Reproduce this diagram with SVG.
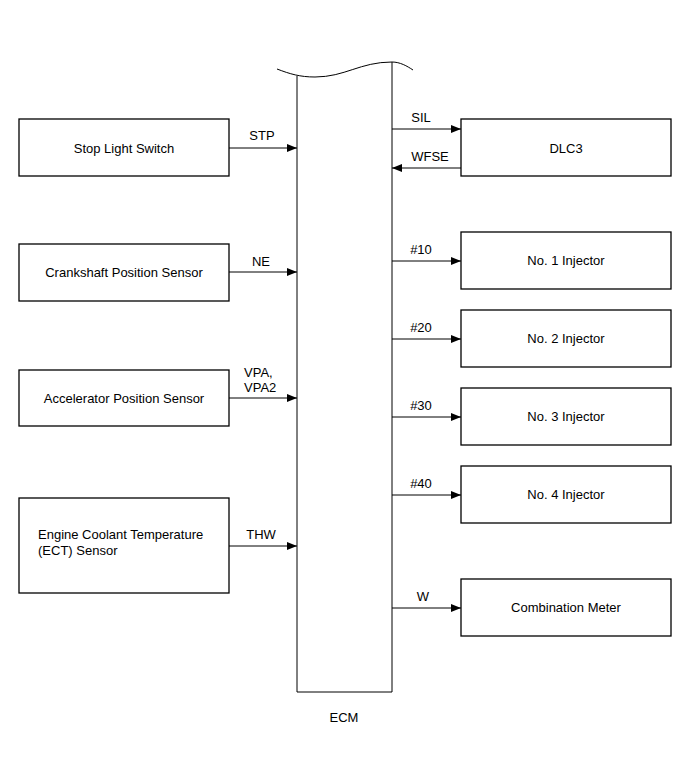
<svg xmlns="http://www.w3.org/2000/svg" width="690" height="757" viewBox="0 0 690 757">
<style>
.box{fill:#fff;stroke:#000;stroke-width:1.3}
text{font-family:"Liberation Sans",Arial,sans-serif;font-size:13px;fill:#000}
.c{text-anchor:middle}
.ln{stroke:#000;stroke-width:1;fill:none}
</style>
<defs>
<marker id="ah" markerWidth="10" markerHeight="8" refX="10" refY="4" orient="auto" markerUnits="userSpaceOnUse">
<path d="M0,0 L10,4 L0,8 Z" fill="#000"/>
</marker>
</defs>
<g id="ecm">
<path class="ln" stroke-width="1.3" d="M297,76 L297,692 L392,692 L392,62"/>
<path class="ln" stroke-width="1.3" d="M277,69 C290,74 300,77 315,77 C345,77 360,62 392,62 C400,62 407,66 413,70"/>
<text class="c" x="344" y="722">ECM</text>
</g>
<g id="stop-light-switch"><rect class="box" x="19" y="119" width="210" height="57"/><text class="c" x="124" y="153">Stop Light Switch</text></g>
<g id="crankshaft"><rect class="box" x="19" y="244" width="210" height="57"/><text class="c" x="124" y="277">Crankshaft Position Sensor</text></g>
<g id="accelerator"><rect class="box" x="19" y="370" width="210" height="56"/><text class="c" x="124" y="403">Accelerator Position Sensor</text></g>
<g id="ect"><rect class="box" x="19" y="498" width="210" height="95"/><text x="38" y="539">Engine Coolant Temperature</text><text x="38" y="555">(ECT) Sensor</text></g>
<g id="dlc3"><rect class="box" x="461" y="119" width="210" height="57"/><text class="c" x="566" y="153">DLC3</text></g>
<g id="inj1"><rect class="box" x="461" y="232" width="210" height="57"/><text class="c" x="566" y="265">No. 1 Injector</text></g>
<g id="inj2"><rect class="box" x="461" y="310" width="210" height="57"/><text class="c" x="566" y="343">No. 2 Injector</text></g>
<g id="inj3"><rect class="box" x="461" y="388" width="210" height="57"/><text class="c" x="566" y="421">No. 3 Injector</text></g>
<g id="inj4"><rect class="box" x="461" y="466" width="210" height="57"/><text class="c" x="566" y="499">No. 4 Injector</text></g>
<g id="meter"><rect class="box" x="461" y="579" width="210" height="57"/><text class="c" x="566" y="612">Combination Meter</text></g>
<g id="connectors">
<line class="ln" x1="229" y1="148" x2="297" y2="148" marker-end="url(#ah)"/>
<text class="c" x="262" y="140">STP</text>
<line class="ln" x1="229" y1="272" x2="297" y2="272" marker-end="url(#ah)"/>
<text class="c" x="261" y="266">NE</text>
<line class="ln" x1="229" y1="398" x2="297" y2="398" marker-end="url(#ah)"/>
<text x="244" y="377">VPA,</text>
<text x="244" y="392">VPA2</text>
<line class="ln" x1="229" y1="546" x2="297" y2="546" marker-end="url(#ah)"/>
<text class="c" x="261" y="539">THW</text>
<line class="ln" x1="392" y1="129" x2="461" y2="129" marker-end="url(#ah)"/>
<text class="c" x="421" y="122">SIL</text>
<line class="ln" x1="461" y1="168" x2="392" y2="168" marker-end="url(#ah)"/>
<text class="c" x="430" y="161">WFSE</text>
<line class="ln" x1="392" y1="261" x2="461" y2="261" marker-end="url(#ah)"/>
<text class="c" x="421" y="254">#10</text>
<line class="ln" x1="392" y1="339" x2="461" y2="339" marker-end="url(#ah)"/>
<text class="c" x="421" y="332">#20</text>
<line class="ln" x1="392" y1="417" x2="461" y2="417" marker-end="url(#ah)"/>
<text class="c" x="421" y="410">#30</text>
<line class="ln" x1="392" y1="495" x2="461" y2="495" marker-end="url(#ah)"/>
<text class="c" x="421" y="488">#40</text>
<line class="ln" x1="392" y1="608" x2="461" y2="608" marker-end="url(#ah)"/>
<text class="c" x="423" y="601">W</text>
</g>
</svg>
